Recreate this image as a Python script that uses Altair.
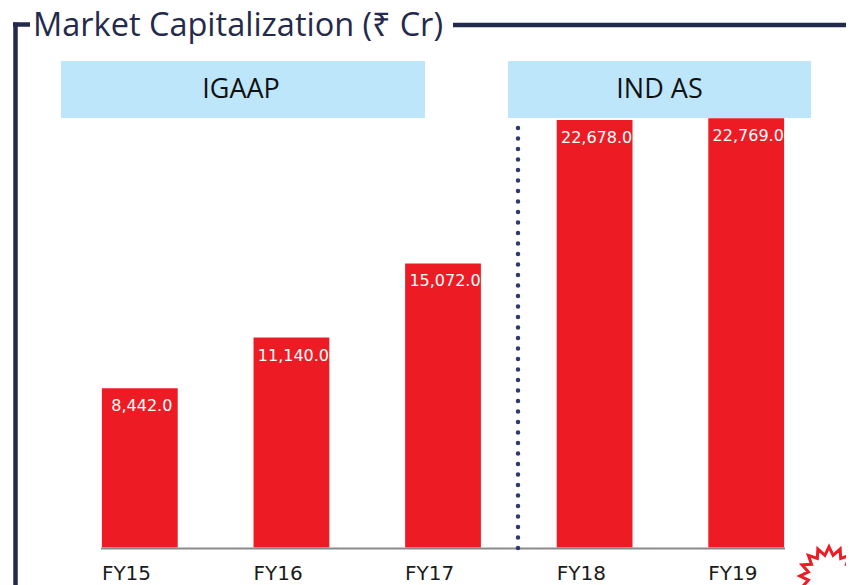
import math
import altair as alt
import pandas as pd

# ---- data ----
years = ["FY15", "FY16", "FY17", "FY18", "FY19"]
market_cap = [8442.0, 11140.0, 15072.0, 22678.0, 22769.0]
value_labels = ["8,442.0", "11,140.0", "15,072.0", "22,678.0", "22,769.0"]
title_text = "Market Capitalization (₹ Cr)"
segment_names = ["IGAAP", "IND AS"]

df = pd.DataFrame({"year": years, "cap": market_cap, "label": value_labels})
one = pd.DataFrame({"a": [0]})

RED = "#ED1C24"
NAVY = "#242A4C"
BOX = "#BDE6FB"

xs = alt.Scale(domain=years, range=[56, 814], paddingInner=0.5, paddingOuter=0.25)
ys = alt.Scale(domain=[0, 25000], range=[539.5, 68.25])

bars = alt.Chart(df).mark_bar(color=RED).encode(
    x=alt.X("year:N", scale=xs, axis=None, sort=years),
    y=alt.Y("cap:Q", scale=ys, axis=None),
)

vals = alt.Chart(df).mark_text(
    color="white", font="DejaVu Sans", fontSize=16, align="center",
    baseline="alphabetic", dy=23, dx=2
).encode(
    x=alt.X("year:N", scale=xs, axis=None, sort=years),
    y=alt.Y("cap:Q", scale=ys, axis=None),
    text="label:N",
)

xlabels = alt.Chart(df).mark_text(
    color="#1a1a1a", font="DejaVu Sans", fontSize=20, align="left",
    baseline="alphabetic"
).encode(
    x=alt.X("year:N", scale=xs, axis=None, sort=years, bandPosition=0),
    y=alt.value(572),
    text="year:N",
)

axis_line = alt.Chart(one).mark_rule(color="#8a8a8a", strokeWidth=2).encode(
    x=alt.value(93), x2=alt.value(777), y=alt.value(540.5)
)

dotted = alt.Chart(one).mark_rule(
    color="#2E3A6B", strokeWidth=4.5, strokeCap="round", strokeDash=[0.1, 10.4]
).encode(x=alt.value(510), y=alt.value(120), y2=alt.value(540))

boxes_df = pd.DataFrame({
    "name": segment_names,
    "x0": [53, 500], "x1": [417, 803], "tx": [233, 651.5],
})
boxes = alt.Chart(boxes_df).mark_rect(color=BOX).encode(
    x=alt.X("x0:Q", scale=None), x2="x1:Q",
    y=alt.value(53), y2=alt.value(110),
)
box_text = alt.Chart(boxes_df).mark_text(
    font="Open Sans", fontSize=27, color="#111111", baseline="middle", align="center"
).encode(
    x=alt.X("tx:Q", scale=None), y=alt.value(82), text="name:N"
)

title = alt.Chart(one).mark_text(
    text=title_text, font="Open Sans", fontSize=32.5, color=NAVY,
    align="left", baseline="alphabetic"
).encode(x=alt.value(25), y=alt.value(28))

top_line = alt.Chart(one).mark_rule(color=NAVY, strokeWidth=4.5).encode(
    x=alt.value(445), x2=alt.value(846), y=alt.value(17)
)
corner_h = alt.Chart(one).mark_rule(color=NAVY, strokeWidth=4.5).encode(
    x=alt.value(5), x2=alt.value(22), y=alt.value(16.5)
)
corner_v = alt.Chart(one).mark_rule(color=NAVY, strokeWidth=4.5).encode(
    x=alt.value(7.5), y=alt.value(14.5), y2=alt.value(600)
)

# decorative logo (sunburst outline)
pts = []
n = 16
for i in range(2 * n):
    r = 1.0 if i % 2 == 0 else 0.72
    ang = math.pi * i / n - math.pi / 2
    pts.append(f"{r*math.cos(ang):.3f},{r*math.sin(ang):.3f}")
star_path = "M" + " L".join(pts) + " Z"
logo = alt.Chart(one).mark_point(
    shape=star_path, filled=False, color=RED, strokeWidth=3, size=3400, opacity=1
).encode(x=alt.value(821), y=alt.value(568))

chart = alt.layer(
    boxes, box_text, bars, vals, xlabels, axis_line, dotted,
    title, top_line, corner_h, corner_v, logo
).properties(
    width=838, height=577, autosize=alt.AutoSizeParams(type="none"),
    padding=0,
).configure_view(stroke=None)

chart.save("out.html", embed_options={"renderer": "svg", "actions": False})
